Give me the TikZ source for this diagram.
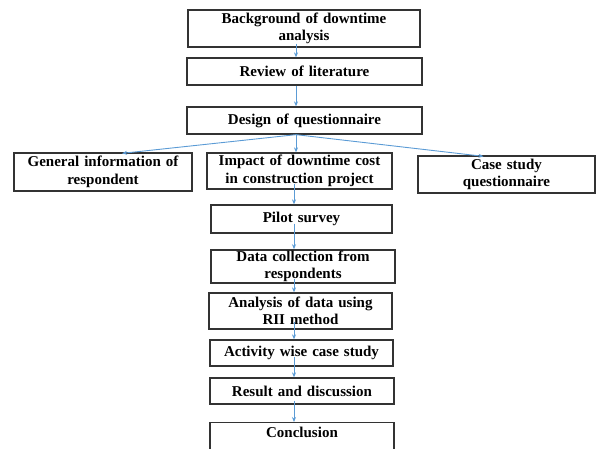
\documentclass[tikz,border=0pt]{standalone}
\usepackage{fontspec}
\setmainfont{Liberation Serif}
\usetikzlibrary{arrows.meta,calc}
\definecolor{arrblue}{HTML}{5B9BD5}
\definecolor{boxline}{HTML}{333333}
\begin{document}
\begin{tikzpicture}[x=1pt,y=-1pt,
  box/.style={draw=boxline,line width=1.3pt,rectangle,inner sep=1pt,align=center,
    font=\fontsize{15}{17.5}\selectfont\bfseries},
  arr/.style={draw=arrblue,line width=0.9pt,-{Stealth[length=5pt,width=4pt]}}]
\useasboundingbox (0,0) rectangle (597,448);
\node[box,minimum width=232pt,minimum height=37pt,text width=228pt] (bg) at (304,28.5) {Background of downtime\\analysis};
\node[box,minimum width=235pt,minimum height=27pt,text width=231pt] (rev) at (304.5,71.5) {Review of literature};
\node[box,minimum width=235pt,minimum height=27pt,text width=231pt] (des) at (304.5,120.5) {Design of questionnaire};
\node[box,minimum width=178pt,minimum height=38pt,text width=174pt] (gen) at (103,172) {General information of\\respondent};
\node[box,minimum width=185pt,minimum height=36pt,text width=181pt] (imp) at (299.5,171) {Impact of downtime cost\\in construction project};
\node[box,minimum width=177pt,minimum height=37pt,text width=173pt] (case) at (506.5,174.5) {Case study\\questionnaire};
\node[box,minimum width=181pt,minimum height=28pt,text width=177pt] (pil) at (301.5,219) {Pilot survey};
\node[box,minimum width=184pt,minimum height=33pt,text width=180pt] (dat) at (303,266.5) {Data collection from\\respondents};
\node[box,minimum width=183pt,minimum height=36pt,text width=179pt] (ana) at (300.5,311) {Analysis of data using\\RII method};
\node[box,minimum width=183pt,minimum height=26pt,text width=179pt] (act) at (301.5,353) {Activity wise case study};
\node[box,minimum width=184pt,minimum height=26pt,text width=180pt] (res) at (302,391) {Result and discussion};
\node[box,minimum width=184pt,text width=180pt,text height=14pt,text depth=16pt,anchor=north] (con) at (302,422) {Conclusion};
\coordinate (ax) at (296,0);
\coordinate (bx) at (294,0);
\draw[arr] ($(bg.south -| ax)+(0pt,4pt)$) -- (rev.north -| ax);
\draw[arr] (rev.south -| ax) -- (des.north -| ax);
\coordinate (split) at (des.south -| ax);
\draw[arr] (split) -- ($(gen.north)+(19pt,-1pt)$);
\draw[arr] (split) -- (imp.north -| ax);
\draw[arr] (split) -- ($(case.north)+(-23pt,-1pt)$);
\draw[arr] ($(imp.south -| bx)+(0pt,6pt)$) -- (pil.north -| bx);
\draw[arr] ($(pil.south -| bx)+(0pt,10pt)$) -- (dat.north -| bx);
\draw[arr] ($(dat.south -| bx)+(0pt,5pt)$) -- (ana.north -| bx);
\draw[arr] ($(ana.south -| bx)+(0pt,8pt)$) -- (act.north -| bx);
\draw[arr] ($(act.south -| bx)+(0pt,10pt)$) -- (res.north -| bx);
\draw[arr] ($(res.south -| bx)+(0pt,4pt)$) -- (con.north -| bx);
\end{tikzpicture}
\end{document}
